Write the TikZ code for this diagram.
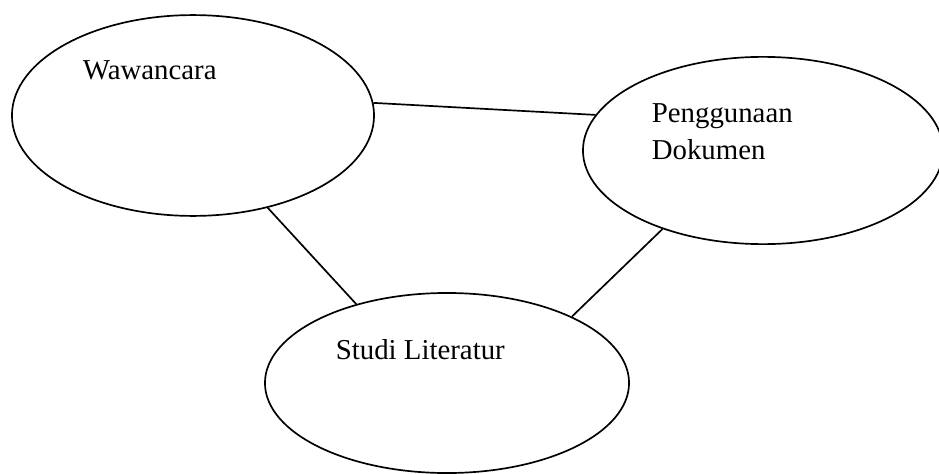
\documentclass[tikz,border=0pt]{standalone}
\usepackage{fontspec}
\setmainfont{Liberation Serif}
\usetikzlibrary{shapes.geometric}
\begin{document}
\begin{tikzpicture}
[x=0.025cm, y=-0.025cm, line width=1.2pt,
oval/.style={ellipse, draw, inner sep=0pt},
lbl/.style={anchor=base west, inner sep=0pt, align=left, font=\fontsize{20.5}{26.3}\selectfont}]
\useasboundingbox (0,0) rectangle (939,473);
\clip (0,0) rectangle (939,473);

\node[oval, minimum width=9.05cm, minimum height=5.02cm] (wawan) at (193,115.5) {};
\node[oval, minimum width=9cm, minimum height=4.68cm] (dokumen) at (763,150.5) {};
\node[oval, minimum width=9.1cm, minimum height=4.5cm] (studi) at (447,383) {};

\node[lbl] (twawan) at (82,80) {Wawancara};
\node[lbl] (tdokumen) at (651,159) {Penggunaan\\Dokumen};
\node[lbl] (tstudi) at (335,359) {Studi Literatur};

\draw (wawan.4) -- (dokumen.168);
\draw (wawan.-51) -- (studi.139);
\draw (dokumen.-142) -- (studi.28);
\end{tikzpicture}
\end{document}
